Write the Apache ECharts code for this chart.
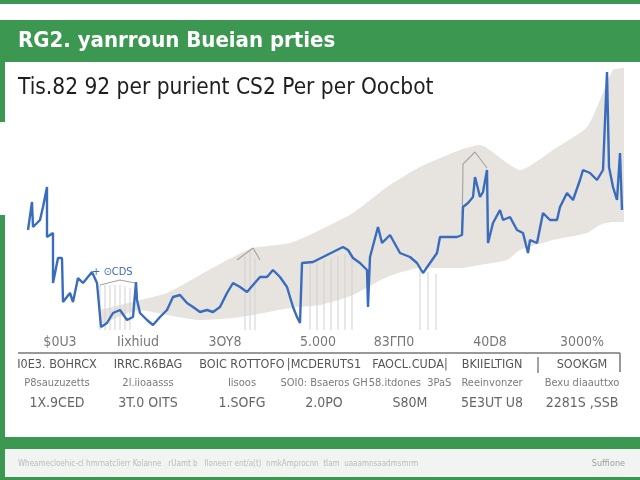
<!DOCTYPE html>
<html><head><meta charset="utf-8">
<script src="https://cdn.jsdelivr.net/npm/echarts@6/dist/echarts.min.js"></script>
<style>html,body{margin:0;padding:0;background:#fff}#c{width:640px;height:480px}</style>
</head><body><div id="c"></div>
<script>
// ---- data ----
const titleText = "RG2. yanrroun Bueian prties";
const subtitleText = "Tis.82 92 per purient CS2 Per per Oocbot";
const tickLabels = ["$0U3", "Iixhiud", "3OY8", "5.000", "83\u0393\u03a00", "40D8", "3000%"];
const tickPos = [18, 57, 100.5, 147, 185, 233, 279];
const rowHeaders = ["I0E3. BOHRCX", "IRRC.R6BAG", "BOIC ROTTOFO", "|MCDERUTS1", "FAOCL.CUDA|", "BKIIELTIGN", "SOOKGM"];
const rowSub = ["P8sauzuzetts", "2l.iioaasss", "Iisoos", "SOI0: Bsaeros GH", "58.itdones  3PaS", "Reeinvonzer", "Bexu diaauttxo"];
const rowVals = ["1X.9CED", "3T.0 OITS", "1.SOFG", "2.0PO", "S80M", "5E3UT U8", "2281S ,SSB"];
const footerLeft = "Wheamecloehic-cl hmrnatclierr Kolanne   rUamt b   Iloneerr ent/a(t)  nmkAmprocnn  tIam  uaaamnsaadmsmrm";
const footerRight = "Suffione";

const priceX = [2,4,4.5,8,9.5,11.5,11.5,14.5,14.5,17,19,19.5,23,24.5,27,29.5,34,36.5,38.5,41.5,44.5,48,51.5,54.5,56,56.5,58,61.5,64.5,68,71.5,74.5,78,81.5,84.5,88,91.5,94.5,98,101.5,104.5,108,111.5,114.5,118,121.5,124.5,128,131.5,134.5,136.5,138,139,144.5,151.5,159.5,162,164.5,168,171.5,172,173,177,179,183,188,193,196.5,199.5,203,206.5,208,211.5,216.5,219,219.5,222,224.5,225.5,228,229.5,231.5,232,234.5,238,239.5,243,246.5,249.5,252,253,256.5,259.5,263,266.5,268,271.5,274.5,278,279.5,283,286.5,289.5,291.5,292.5,294.5,296.5,298,299];
const priceY = [50,64,51.5,55,61.5,71.5,46.5,48.5,23.5,36,36,14,18.5,14,26,23.5,29,23.5,1.5,3.5,8.5,10,5,6.5,24,15,8.5,5,2.5,6.5,10,16.5,17.5,13.5,11.5,9,10,9,11.5,18.5,23.5,21.5,19,22.5,26.5,26.5,30,26.5,21.5,11.5,6.5,3.5,33.5,34,37.5,41.5,40,36,33.5,30,11.5,36.5,51.5,43.5,47.5,38.5,36.5,33.5,28.5,33.5,38.5,46.5,46.5,46.5,47.5,61.5,63.5,66.5,76.5,66.5,69,80,43.5,53.5,60,55,56.5,50,48.5,38.5,45,43.5,58.5,55,55,61.5,68.5,65,75,80,78.5,75,80,129,81.5,71.5,65,88.5,60];

const bandX = [38,58,71.5,88,104.5,114.5,133,148,164.5,181.5,198,218,228,241.5,248,264.5,281.5,288,294.5,300];
const bandUpper = [10,15,18.5,27.5,36.5,41,43.5,50,58.5,71.5,81.5,90,92.5,83.5,80,90,101.5,115,130,131];
const bandLower = [2.5,10,7.5,5,6,7.5,11,12.5,17.5,26.5,31,31,32.5,35,40,45,48.5,52.5,54,54];

const refX = [38,48,55.5,null,106.5,114.5,118,null,219,219.5,225.5,231.5];
const refY = [22.5,25,23.5,null,35,41,35,null,47,83,89,81];

const hatchX = [38,40.5,43,45.5,48,50.5,53,110.5,113,115.5,143,146.5,150,153.5,157,160.5,164,198,202,206];
const hatchY = [22.5,22.5,22.5,22.5,22.5,22,21,37,40,36,33,34,35,36,37,38,37,30,29,28];

// ---- chart ----
const chart = echarts.init(document.getElementById('c'), null, {renderer: 'canvas'});
const pair = (xs, ys) => xs.map((x, i) => (x === null ? [null, null] : [x, ys[i]]));
const green = '#3c9850';
const narrow = '"DejaVu Sans Condensed","Liberation Sans Narrow","Liberation Sans",sans-serif';

const graphics = [
  {type:'rect', shape:{x:0,y:0,width:640,height:4}, style:{fill:green}, silent:true},
  {type:'rect', shape:{x:0,y:20,width:640,height:42}, style:{fill:green}, silent:true},
  {type:'rect', shape:{x:0,y:62,width:5,height:60}, style:{fill:green}, silent:true},
  {type:'rect', shape:{x:0,y:215,width:5,height:265}, style:{fill:green}, silent:true},
  {type:'rect', shape:{x:0,y:437,width:640,height:12}, style:{fill:green}, silent:true},
  {type:'rect', shape:{x:5,y:449,width:635,height:28}, style:{fill:'#f1f4f1'}, silent:true},
  {type:'rect', shape:{x:0,y:477,width:640,height:3}, style:{fill:green}, silent:true},
  {type:'text', x:18, y:41, z:100, style:{text:titleText, fill:'#fff', font:'bold 22px ' + narrow, textVerticalAlign:'middle'}},
  {type:'text', x:18, y:88, z:100, style:{text:subtitleText, fill:'#1e1e1e', font:'22.5px ' + narrow, textVerticalAlign:'middle'}},
  {type:'text', x:92, y:272, z:100, style:{text:'+ \u2299CDS', fill:'#3a68b8', font:'11px ' + narrow, textVerticalAlign:'middle'}},
  {type:'line', shape:{x1:18,y1:353,x2:620,y2:353}, style:{stroke:'#777',lineWidth:1.5}},
  {type:'line', shape:{x1:620,y1:353,x2:620,y2:372}, style:{stroke:'#777',lineWidth:1.5}},
  {type:'line', shape:{x1:538,y1:357,x2:538,y2:373}, style:{stroke:'#666',lineWidth:1.2}},
  {type:'text', x:18, y:464, style:{text:footerLeft, fill:'#b7bdb7', font:'8px ' + narrow, textVerticalAlign:'middle'}},
  {type:'text', x:625, y:464, style:{text:footerRight, fill:'#9aa09a', font:'9px ' + narrow, textAlign:'right', textVerticalAlign:'middle'}}
];
const colCenters = [57, 148, 242, 324, 410, 492, 582];
rowHeaders.forEach((t, i) => graphics.push({type:'text', x:colCenters[i], y:365, z:100, style:{text:t, fill:'#555', font:'12.5px ' + narrow, textAlign:'center', textVerticalAlign:'middle'}}));
rowSub.forEach((t, i) => graphics.push({type:'text', x:colCenters[i], y:383, z:100, style:{text:t, fill:'#7a7a7a', font:'11px ' + narrow, textAlign:'center', textVerticalAlign:'middle'}}));
rowVals.forEach((t, i) => graphics.push({type:'text', x:colCenters[i], y:403, z:100, style:{text:t, fill:'#666', font:'14px ' + narrow, textAlign:'center', textVerticalAlign:'middle'}}));

chart.setOption({
  animation: false,
  backgroundColor: '#fff',
  grid: {left: 24, right: 16, top: 70, bottom: 150},
  xAxis: {
    type: 'value', min: 0, max: 300, interval: 50,
    axisLine: {show: false}, axisTick: {show: false}, splitLine: {show: false},
    axisLabel: {show: false}
  },
  yAxis: {
    type: 'value', min: 0, max: 130, interval: 10,
    axisLine: {show: false}, axisTick: {show: false}, splitLine: {show: false}, axisLabel: {show: false}
  },
  graphic: graphics,
  series: [
    {type:'line', data: pair(bandX, bandUpper), symbol:'none', smooth:0.2, clip:false,
     lineStyle:{opacity:0}, areaStyle:{color:'#e7e4e0', opacity:1}, silent:true, z:1},
    {type:'line', data: pair(bandX, bandLower), symbol:'none', smooth:0.2, clip:false,
     lineStyle:{opacity:0}, areaStyle:{color:'#ffffff', opacity:1}, silent:true, z:1},
    {type:'bar', data: pair(hatchX, hatchY), barWidth:1, itemStyle:{color:'#d2d2d2'}, silent:true, z:2},
    {type:'line', data: pair(refX, refY), symbol:'none', connectNulls:false, lineStyle:{color:'#a5a5a5', width:1.2}, silent:true, z:3},
    {type:'line', data: pair(priceX, priceY), symbol:'none', lineStyle:{color:'#3a6cbd', width:2.4}, z:4},
    {type:'scatter', data: tickPos.map((p, i) => [p, -6, tickLabels[i]]), symbolSize:0, silent:true, clip:false,
     label:{show:true, position:'inside', formatter: p => p.data[2], color:'#555', fontSize:14, fontFamily: narrow}, z:5}
  ]
});
</script>
</body></html>
